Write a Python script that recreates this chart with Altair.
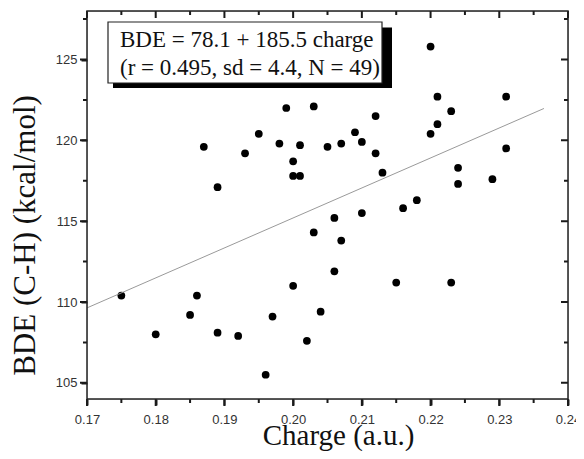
import altair as alt
import pandas as pd

# ---- data ----
charge = [0.220, 0.221, 0.199, 0.203, 0.223, 0.212, 0.221, 0.231, 0.195, 0.209, 0.220,
          0.187, 0.193, 0.198, 0.201, 0.200, 0.200, 0.201, 0.189, 0.205, 0.207, 0.210,
          0.212, 0.213, 0.224, 0.224, 0.229, 0.231, 0.216, 0.218, 0.206, 0.210, 0.203,
          0.207, 0.206, 0.175, 0.186, 0.200, 0.215, 0.223, 0.185, 0.180, 0.189, 0.192,
          0.197, 0.204, 0.202, 0.196]
bde = [125.8, 122.7, 122.0, 122.1, 121.8, 121.5, 121.0, 122.7, 120.4, 120.5, 120.4,
       119.6, 119.2, 119.8, 119.7, 118.7, 117.8, 117.8, 117.1, 119.6, 119.8, 119.9,
       119.2, 118.0, 118.3, 117.3, 117.6, 119.5, 115.8, 116.3, 115.2, 115.5, 114.3,
       113.8, 111.9, 110.4, 110.4, 111.0, 111.2, 111.2, 109.2, 108.0, 108.1, 107.9,
       109.1, 109.4, 107.6, 105.5]

fit_intercept = 78.1
fit_slope = 185.5
fit_x = [0.170, 0.2365]

x_major = [0.17, 0.18, 0.19, 0.20, 0.21, 0.22, 0.23, 0.24]
x_minor = [0.175, 0.185, 0.195, 0.205, 0.215, 0.225, 0.235]
y_major = [105, 110, 115, 120, 125]
y_minor = [107.5, 112.5, 117.5, 122.5, 127.5]

box_lines = ["BDE = 78.1 + 185.5 charge", "(r = 0.495, sd = 4.4, N = 49)"]
x_title = "Charge (a.u.)"
y_title = "BDE (C-H) (kcal/mol)"

W, H = 481, 388

pts = pd.DataFrame({"charge": charge, "bde": bde})
fit = pd.DataFrame({"charge": fit_x, "bde": [fit_intercept + fit_slope * c for c in fit_x]})
one = pd.DataFrame({"k": [0]})
xmaj = pd.DataFrame({"tx": x_major})
xmin = pd.DataFrame({"tx": x_minor})
ymaj = pd.DataFrame({"ty": y_major})
ymin = pd.DataFrame({"ty": y_minor})

xs = alt.Scale(domain=[0.17, 0.24], nice=False, zero=False)
ys = alt.Scale(domain=[104, 128], nice=False, zero=False)

SANS = "Liberation Sans"
SERIF = "Liberation Serif"
TICK = "#1a1a1a"

x_main = alt.Axis(orient="bottom", values=x_major, format=".2f", ticks=True, tickSize=6,
                  tickColor=TICK, tickWidth=2,
                  labelFont=SANS, labelFontSize=13, labelColor="#333", labelPadding=8,
                  labelFlush=False, labelOverlap=False,
                  domain=False, grid=False,
                  title=x_title, titleFont=SERIF, titleFontSize=29, titleFontWeight="normal",
                  titleColor="#111", titleX=251, titleY=45, titleBaseline="alphabetic",
                  titleAlign="center")
y_main = alt.Axis(orient="left", values=y_major, format="d", ticks=True, tickSize=6,
                  tickColor=TICK, tickWidth=2,
                  labelFont=SANS, labelFontSize=13, labelColor="#333", labelPadding=4,
                  labelFlush=False, labelOverlap=False,
                  domain=False, grid=False,
                  title=y_title, titleFont=SERIF, titleFontSize=31, titleFontWeight="normal",
                  titleColor="#111", titleX=-62, titleY=224, titleAngle=270,
                  titleBaseline="middle", titleAlign="center")

points = alt.Chart(pts).mark_circle(size=60, color="black", opacity=1).encode(
    x=alt.X("charge:Q", scale=xs, axis=x_main),
    y=alt.Y("bde:Q", scale=ys, axis=y_main),
)

line = alt.Chart(fit).mark_line(color="#9a9a9a", strokeWidth=1).encode(
    x=alt.X("charge:Q", scale=xs),
    y=alt.Y("bde:Q", scale=ys),
)


def xticks(df, y0, y1):
    return alt.Chart(df).mark_rect(filled=False, stroke=TICK, strokeWidth=2).encode(
        x=alt.X("tx:Q", scale=xs), x2=alt.X2("tx"), y=alt.value(y0), y2=alt.value(y1))


def yticks(df, x0, x1):
    return alt.Chart(df).mark_rect(filled=False, stroke=TICK, strokeWidth=2).encode(
        y=alt.Y("ty:Q", scale=ys), y2=alt.Y2("ty"), x=alt.value(x0), x2=alt.value(x1))


tick_layers = [
    xticks(xmaj, H, H + 7), xticks(xmin, H, H + 4),        # bottom, outward
    xticks(xmaj, 0, 7), xticks(xmin, 0, 4),                # top, inward
    yticks(ymaj, -7, 0), yticks(ymin, -4, 0),              # left, outward
    yticks(ymaj, W - 7, W), yticks(ymin, W - 4, W),        # right, inward
]

frame = alt.Chart(one).mark_rect(filled=False, stroke="#222", strokeWidth=1.5).encode(
    x=alt.value(0), x2=alt.value(W), y=alt.value(0), y2=alt.value(H)
)
shadow = alt.Chart(one).mark_rect(color="black").encode(
    x=alt.value(26), x2=alt.value(305), y=alt.value(16.5), y2=alt.value(77)
)
box = alt.Chart(one).mark_rect(fill="white", stroke="#222", strokeWidth=1.2).encode(
    x=alt.value(21), x2=alt.value(295), y=alt.value(11), y2=alt.value(72)
)
label = alt.Chart(one).mark_text(
    text=box_lines, font=SERIF, fontSize=23, color="#111", align="left",
    baseline="alphabetic", lineHeight=28
).encode(x=alt.value(33), y=alt.value(36))

chart = alt.layer(
    points, line, *tick_layers, frame, shadow, box, label
).properties(
    width=W, height=H,
    autosize=alt.AutoSizeParams(type="none"),
    padding={"left": 79, "top": 3, "right": 8, "bottom": 52},
)

chart.save("out.html", embed_options={"renderer": "svg", "actions": False})
